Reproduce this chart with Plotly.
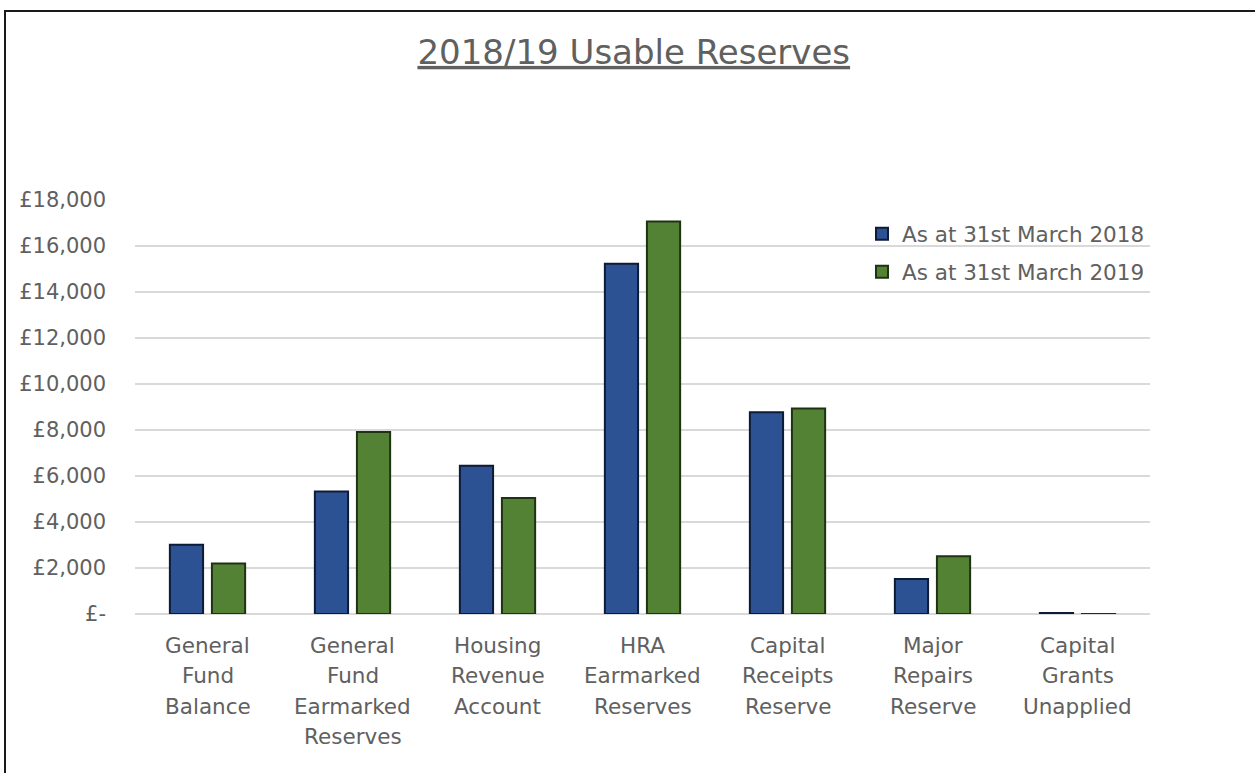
import plotly.graph_objects as go

categories = [
    "General<br>Fund<br>Balance",
    "General<br>Fund<br>Earmarked<br>Reserves",
    "Housing<br>Revenue<br>Account",
    "HRA<br>Earmarked<br>Reserves",
    "Capital<br>Receipts<br>Reserve",
    "Major<br>Repairs<br>Reserve",
    "Capital<br>Grants<br>Unapplied",
]
series_2018_name = "As at 31st March 2018"
series_2019_name = "As at 31st March 2019"
values_2018 = [3010, 5330, 6450, 15230, 8770, 1520, 40]
values_2019 = [2200, 7910, 5040, 17060, 8930, 2510, 5]
y_tick_vals = [0, 2000, 4000, 6000, 8000, 10000, 12000, 14000, 16000, 18000]
y_tick_text = ["£-", "£2,000", "£4,000", "£6,000", "£8,000", "£10,000",
               "£12,000", "£14,000", "£16,000", "£18,000"]
title_text = "2018/19 Usable Reserves"

FONT = "DejaVu Sans"
TXT = "#606060"
W, H = 1255, 773
L, R, T, B = 135, 105, 200, 159
pw, ph = W - L - R, H - T - B

fig = go.Figure()
fig.add_trace(go.Bar(
    x=categories, y=values_2018, name=series_2018_name,
    marker=dict(color="#2C5293", line=dict(color="#0E1B36", width=2)),
    legendgroup="a",
))
fig.add_trace(go.Bar(
    x=categories, y=values_2019, name=series_2019_name,
    marker=dict(color="#548235", line=dict(color="#1F3314", width=2)),
    legendgroup="b",
))

# category labels, one text line per row with Excel-like line spacing
for cat in categories:
    for i, line in enumerate(cat.split("<br>")):
        fig.add_annotation(x=cat, y=0, xref="x", yref="y", text=line,
                           showarrow=False, yanchor="middle", xanchor="center",
                           yshift=-(31 + i * 30.6),
                           font=dict(family=FONT, size=21.5, color=TXT))

fig.update_layout(
    width=W, height=H,
    margin=dict(l=L, r=R, t=T, b=B),
    paper_bgcolor="white", plot_bgcolor="white",
    barmode="group", bargap=0.42, bargroupgap=0.21,
    font=dict(family=FONT, color=TXT, size=21),
    title=dict(text="<u>" + title_text + "</u>", x=0.505, xanchor="center",
               y=1 - 52 / H, yanchor="middle", yref="container",
               font=dict(family=FONT, size=34, color=TXT)),
    legend=dict(x=1.0, xanchor="right", y=0.968, yanchor="top",
                bgcolor="rgba(0,0,0,0)", font=dict(size=21.5, color=TXT),
                traceorder="grouped", tracegroupgap=7, itemwidth=30),
    showlegend=True,
    xaxis=dict(showgrid=False, showline=False, ticks="", showticklabels=False),
    yaxis=dict(range=[0, 18000], tickvals=y_tick_vals, ticktext=y_tick_text,
               showgrid=True, gridcolor="#D9D9D9", gridwidth=1.5,
               zeroline=True, zerolinecolor="#D9D9D9", zerolinewidth=1.5,
               showline=False, ticks="", ticklabelstandoff=28,
               tickfont=dict(size=21, color=TXT)),
)

# outer chart frame (left/top edges visible, others beyond the picture)
fig.add_shape(type="rect", xref="paper", yref="paper",
              x0=(5 - L) / pw, x1=(1262 - L) / pw,
              y0=-(H - T - ph + 10) / ph, y1=1 + (T - 11) / ph,
              line=dict(color="#1A1A1A", width=2), fillcolor="rgba(0,0,0,0)",
              layer="below")

fig.write_html("out.html", config={"displayModeBar": False},
               post_script="document.body.style.margin='0';")
